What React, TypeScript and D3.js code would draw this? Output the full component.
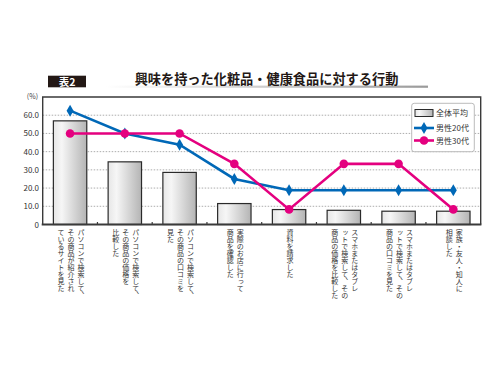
import React from "react";
import * as d3 from "d3";

const categories: string[][] = [
  ["パソコンで検索して、", "その商品が紹介され", "ているサイトを見た"],
  ["パソコンで検索して、", "その商品の価格を", "比較した"],
  ["パソコンで検索して、", "その商品の口コミを", "見た"],
  ["実際のお店に行って", "商品を確認した"],
  ["資料を請求した"],
  ["スマホまたはタブレ", "ットで検索して、その", "商品の価格を比較した"],
  ["スマホまたはタブレ", "ットで検索して、その", "商品の口コミを見た"],
  ["家族・友人・知人に", "相談した"],
];
const overall = [56.9, 34.4, 28.6, 11.5, 8.2, 7.8, 7.3, 7.3];
const male20 = [62.5, 50.0, 43.8, 25.0, 18.8, 18.8, 18.8, 18.8];
const male30 = [50.0, 50.0, 50.0, 33.3, 8.3, 33.3, 33.3, 8.3];
const yTicks = [0, 10, 20, 30, 40, 50, 60];
const legendLabels = ["全体平均", "男性20代", "男性30代"];
const title = "興味を持った化粧品・健康食品に対する行動";
const badge = "表2";

const BLUE = "#0068b7";
const PINK = "#e4007f";
const FONT = "'Noto Sans CJK JP', 'Noto Sans', sans-serif";

export default function App() {
  const left = 42.7, right = 480.7, top = 97, bottom = 224.5;
  const x = d3.scaleBand<number>().domain(d3.range(categories.length)).range([left, right]).paddingInner(0.39).paddingOuter(0.195);
  const xc = (i: number) => (x(i) as number) + x.bandwidth() / 2;
  const y = d3.scaleLinear().domain([0, 70]).range([bottom, top]);
  const line = d3.line<number>().x((_, i) => xc(i)).y((d) => y(d));
  const step = (right - left) / categories.length;
  const diamond = d3.symbol().type(d3.symbolDiamond).size(42)();
  const colW = 10;

  return (
    <svg width={500} height={375} style={{ position: "absolute", left: 0, top: 0, background: "#fff" }} fontFamily={FONT}>
      <defs>
        <linearGradient id="barG" x1="0" x2="1" y1="0" y2="0">
          <stop offset="0" stopColor="#e6e6e6" />
          <stop offset="0.25" stopColor="#f6f6f6" />
          <stop offset="1" stopColor="#b4b4b4" />
        </linearGradient>
        <linearGradient id="ulG" x1="0" x2="1" y1="0" y2="0">
          <stop offset="0" stopColor="#ffffff" />
          <stop offset="1" stopColor="#9a9a9a" />
        </linearGradient>
      </defs>
      {/* title */}
      <rect x={48} y={75.7} width={38} height={11.6} fill="#231815" />
      <text x={67} y={85.5} fill="#fff" fontSize={10.5} fontWeight="bold" textAnchor="middle">{badge}</text>
      <rect x={106} y={85.6} width={322} height={2.2} fill="url(#ulG)" />
      <text x={266.5} y={84.2} fontSize={13.2} fontWeight="bold" textAnchor="middle" fill="#231815">{title}</text>
      {/* (%) */}
      <text x={38} y={99} fontSize={7} textAnchor="end" fill="#444">(%)</text>
      {/* grid */}
      {yTicks.filter((t) => t > 0).map((t) => (
        <line key={t} x1={left} x2={right} y1={y(t)} y2={y(t)} stroke="#888" strokeWidth={0.7} strokeDasharray="1.5,1.5" />
      ))}
      {yTicks.map((t) => (
        <text key={"l" + t} x={39} y={y(t) + 3} fontSize={8} textAnchor="end" fill="#333">{t === 0 ? "0" : t.toFixed(1)}</text>
      ))}
      {/* bars */}
      {overall.map((v, i) => (
        <rect key={i} x={x(i)} y={y(v)} width={x.bandwidth()} height={bottom - y(v)} fill="url(#barG)" stroke="#2a2a2a" strokeWidth={1.2} />
      ))}
      {/* frame */}
      <path d={`M${left},${bottom}V${top}H${right}V${bottom}`} fill="none" stroke="#3a3a3a" strokeWidth={1.4} />
      <line x1={left - 1} x2={right + 0.7} y1={bottom} y2={bottom} stroke="#3a3a3a" strokeWidth={2} />
      {d3.range(1, categories.length).map((k) => (
        <line key={k} x1={left + step * k} x2={left + step * k} y1={bottom - 2.5} y2={bottom} stroke="#3a3a3a" strokeWidth={1.2} />
      ))}
      {/* lines */}
      <path d={line(male20) as string} fill="none" stroke={BLUE} strokeWidth={2.6} />
      {male20.map((v, i) => (
        <path key={i} d={diamond as string} transform={`translate(${xc(i)},${y(v)})`} fill={BLUE} />
      ))}
      <path d={line(male30) as string} fill="none" stroke={PINK} strokeWidth={2.6} />
      {male30.map((v, i) => (
        <circle key={i} cx={xc(i)} cy={y(v)} r={4.3} fill={PINK} />
      ))}
      {/* legend */}
      <rect x={411.7} y={103.3} width={62.6} height={48.4} rx={2.5} fill="#fff" stroke="#aaa" strokeWidth={0.8} />
      <rect x={415} y={109.5} width={18} height={7} fill="url(#barG)" stroke="#2a2a2a" strokeWidth={1} />
      <line x1={414} x2={434} y1={128} y2={128} stroke={BLUE} strokeWidth={2.6} />
      <path d={diamond as string} transform="translate(424,128)" fill={BLUE} />
      <line x1={414} x2={434} y1={140.5} y2={140.5} stroke={PINK} strokeWidth={2.6} />
      <circle cx={424} cy={140.5} r={4.3} fill={PINK} />
      {legendLabels.map((l, i) => (
        <text key={l} x={436} y={[116, 131, 143.5][i]} fontSize={8} fill="#333">{l}</text>
      ))}
      {/* category labels (vertical) */}
      {categories.map((cols, i) => {
        const n = cols.length;
        const w = n * colW;
        return (
          <foreignObject key={i} x={xc(i) - w / 2 + 1} y={228.5} width={w} height={120}>
            <div style={{ writingMode: "vertical-rl", fontSize: "7px", lineHeight: colW + "px", color: "#333", fontFamily: FONT, width: w + "px", height: "120px", margin: 0, whiteSpace: "nowrap" }}>
              {cols.map((c, j) => (
                <div key={j}>{c}</div>
              ))}
            </div>
          </foreignObject>
        );
      })}
    </svg>
  );
}
